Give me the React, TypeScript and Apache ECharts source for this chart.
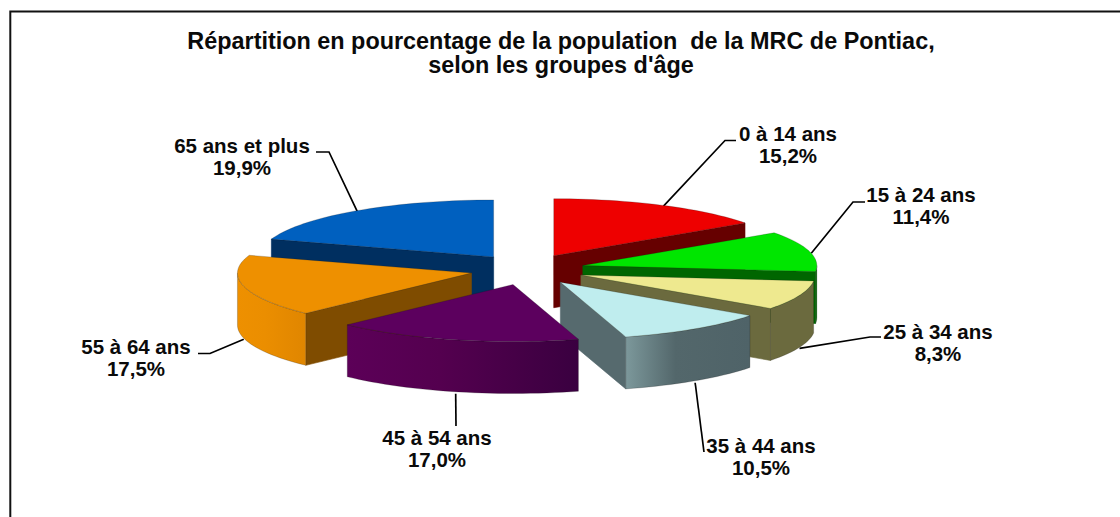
import React, { useEffect, useRef } from "react";
import * as echarts from "echarts";

const TITLE = "Répartition en pourcentage de la population  de la MRC de Pontiac,\nselon les groupes d'âge";
const categories = ["0 à 14 ans", "15 à 24 ans", "25 à 34 ans", "35 à 44 ans", "45 à 54 ans", "55 à 64 ans", "65 ans et plus"];
const values = [15.2, 11.4, 8.3, 10.5, 17.0, 17.5, 19.9];

const topColors = ["#EE0000", "#00E600", "#EEE98F", "#BFEDEE", "#5C005E", "#EE9000", "#0060BF"];
const radialColors = ["#660000", "#006600", "#6B6A3E", "#566A6E", "#4A004C", "#7F4C00", "#002F60"];
const arcLeft = ["#770000", "#006600", "#6B6A3E", "#7C989B", "#5C0058", "#EE9000", "#003060"];
const arcMid = ["#770000", "#006600", "#6B6A3E", "#53676B", "#54004F", "#EB8E00", "#003060"];
const arcRight = ["#770000", "#006600", "#6B6A3E", "#4F6368", "#3A0040", "#E08600", "#003060"];
const paintOrder = [0, 6, 1, 5, 2, 3, 4];

// Pie projection
const CX = 527.3, CY = 269.5, RX = 234, RY = 57, DEPTH = 52, EXPLODE_X = 57.4, EXPLODE_Y = 15.5;
const total = values.reduce((a, b) => a + b, 0);
const RAD = Math.PI / 180;

function sliceGeom(i: number) {
  const before = values.slice(0, i).reduce((a, b) => a + b, 0);
  const a0 = (before / total) * 360;
  const a1 = ((before + values[i]) / total) * 360;
  const mid = (a0 + a1) / 2;
  const ax = CX + EXPLODE_X * Math.sin(mid * RAD);
  const ay = CY - EXPLODE_Y * Math.cos(mid * RAD);
  const at = (deg: number, dz = 0): [number, number] => [
    ax + RX * Math.sin(deg * RAD),
    ay - RY * Math.cos(deg * RAD) + dz,
  ];
  return { a0, a1, mid, ax, ay, at };
}

function arcPoints(at: (d: number, z?: number) => [number, number], from: number, to: number, dz = 0) {
  const n = Math.max(2, Math.ceil(Math.abs(to - from) / 2));
  const pts: [number, number][] = [];
  for (let k = 0; k <= n; k++) pts.push(at(from + ((to - from) * k) / n, dz));
  return pts;
}

// Leader elbows and label centres
const leaderElbows: number[][][] = [
  [[725, 140.5], [736, 140.5]],
  [[853, 202], [865, 202]],
  [[870, 337], [881, 337]],
  [[704, 452]],
  [[456, 426]],
  [[210, 353.5], [198, 353.5]],
  [[329, 152], [316, 152]],
];
const leaderNudge = [[2, 1], [2, 2], [0, 1], [0, 2], [1, 2], [0, 1], [1, 1]];
const labelCentres = [
  [788, 144.5], [921, 205.5], [938, 342], [761, 456], [437, 448], [136, 357], [242, 156],
];
const leaderOnBase = [false, false, true, true, true, true, false];
const LABEL_FONT = "bold 20.5px 'Liberation Sans', Arial, sans-serif";

function renderSlice(params: any, api: any) {
  const i = paintOrder[params.dataIndex];
  const { a0, a1, ax, ay, at } = sliceGeom(i);
  const children: any[] = [];
  const edge = { stroke: "rgba(20,20,20,0.35)", lineWidth: 0.6 };
  const quad = (deg: number, fill: any) => {
    const p = at(deg), q = at(deg, DEPTH);
    children.push({
      type: "polygon",
      shape: { points: [[ax, ay], p, q, [ax, ay + DEPTH]] },
      style: { fill, stroke: fill, lineWidth: 0.6 },
    });
  };
  if (Math.sin(a1 * RAD) > 0) quad(a1, radialColors[i]);
  if (Math.sin(a0 * RAD) < 0) quad(a0, radialColors[i]);
  const f0 = Math.max(a0, 90), f1 = Math.min(a1, 270);
  if (f1 > f0) {
    const top = arcPoints(at, f0, f1);
    const bottom = arcPoints(at, f1, f0, DEPTH);
    const fill = new echarts.graphic.LinearGradient(0, 0, 1, 0, [
      { offset: 0, color: arcLeft[i] },
      { offset: 0.4, color: arcMid[i] },
      { offset: 1, color: arcRight[i] },
    ]);
    children.push({
      type: "polygon",
      shape: { points: [...top, ...bottom] },
      style: { fill, ...edge },
    });
  }
  children.push({
    type: "polygon",
    shape: { points: [[ax, ay], ...arcPoints(at, a0, a1)] },
    style: { fill: topColors[i], ...edge },
  });
  return { type: "group", children };
}

function renderLabel(params: any, api: any) {
  const i = params.dataIndex;
  const { mid, at } = sliceGeom(i);
  const base = at(mid, leaderOnBase[i] ? DEPTH : 0);
  const start = [base[0] + leaderNudge[i][0], base[1] + leaderNudge[i][1]];
  const c = labelCentres[i];
  const pct = values[i].toFixed(1).replace(".", ",") + "%";
  return {
    type: "group",
    children: [
      {
        type: "polyline",
        shape: { points: [start, ...leaderElbows[i]] },
        style: { stroke: "#000", lineWidth: 1.7, fill: "none" },
      },
      {
        type: "text",
        style: {
          text: categories[i] + "\n" + pct,
          x: c[0],
          y: c[1],
          align: "center",
          verticalAlign: "middle",
          textAlign: "center",
          textVerticalAlign: "middle",
          font: LABEL_FONT,
          lineHeight: 22,
          fill: "#0a0a0a",
        },
      },
    ],
  };
}

export default function App() {
  const ref = useRef<HTMLDivElement>(null);
  useEffect(() => {
    document.body.style.margin = "0";
    const chart = echarts.init(ref.current!, undefined, { renderer: "svg" });
    chart.setOption({
      animation: false,
      backgroundColor: "#fff",
      title: {
        text: TITLE,
        left: 556,
        top: 23.5,
        textAlign: "center",
        textStyle: {
          fontFamily: "'Liberation Sans', Arial, sans-serif",
          fontSize: 23.4,
          fontWeight: "bold",
          color: "#0a0a0a",
          lineHeight: 24,
        },
      },
      graphic: [
        {
          type: "polyline",
          shape: { points: [[10.3, 517], [10.3, 11.6], [1120, 11.6]] },
          style: { stroke: "#111", lineWidth: 2, fill: "none" },
        },
      ],
      series: [
        {
          type: "custom",
          coordinateSystem: "none",
          renderItem: renderSlice,
          data: paintOrder.map((i) => values[i]),
          z: 2,
          silent: true,
        },
        {
          type: "custom",
          coordinateSystem: "none",
          renderItem: renderLabel,
          data: values,
          z: 1,
          silent: true,
        },
      ],
    });
    return () => chart.dispose();
  }, []);
  return <div ref={ref} style={{ width: 1120, height: 517 }} />;
}
